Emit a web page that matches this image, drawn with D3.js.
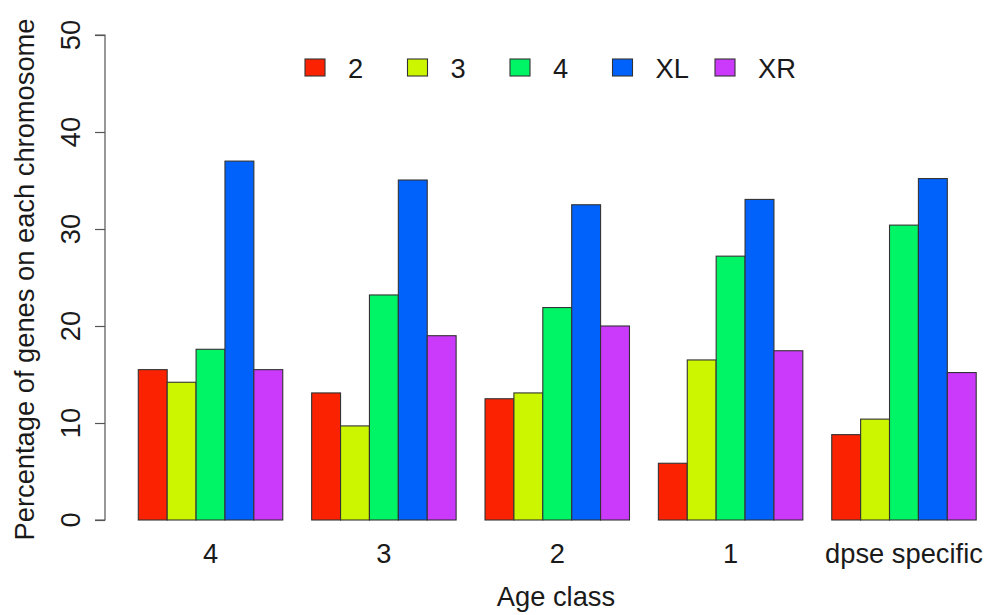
<!DOCTYPE html>
<html>
<head>
<meta charset="utf-8">
<script src="https://cdn.jsdelivr.net/npm/d3@7"></script>
<style>
  html, body { margin: 0; padding: 0; background: #fff; }
  svg { display: block; }
  text { font-family: "Liberation Sans", Arial, Helvetica, sans-serif; fill: #1a1a1a; }
</style>
</head>
<body>
<svg id="chart" width="988" height="615"></svg>
<script>
const categories = ["4", "3", "2", "1", "dpse specific"];
const seriesNames = ["2", "3", "4", "XL", "XR"];
const colors = ["#FA2200", "#CCF500", "#00F566", "#0062FA", "#CB3AFA"];
const chr2 = [15.5, 13.1, 12.5, 5.85, 8.8];
const chr3 = [14.2, 9.7, 13.1, 16.5, 10.4];
const chr4 = [17.6, 23.2, 21.9, 27.2, 30.4];
const chrXL = [37.0, 35.05, 32.5, 33.05, 35.2];
const chrXR = [15.5, 19.0, 20.0, 17.45, 15.2];
const yTicks = [0, 10, 20, 30, 40, 50];

const seriesValues = [chr2, chr3, chr4, chrXL, chrXR];
const fontSize = 27.3;

const svg = d3.select("#chart");

const x0 = d3.scaleBand()
  .domain(categories)
  .range([109.4, 976.2])
  .paddingInner(1 / 6)
  .paddingOuter(1 / 12)
  .align(1);

const x1 = d3.scaleBand()
  .domain(seriesNames)
  .range([0, x0.bandwidth()])
  .padding(0);

const y = d3.scaleLinear().domain([0, 50]).range([520, 35]);

// bars
const groups = svg.append("g").selectAll("g")
  .data(categories)
  .join("g")
  .attr("transform", d => `translate(${x0(d)},0)`);

groups.selectAll("rect")
  .data((c, ci) => seriesNames.map((s, si) => ({ s, si, v: seriesValues[si][ci] })))
  .join("rect")
  .attr("x", d => x1(d.s))
  .attr("y", d => y(d.v))
  .attr("width", x1.bandwidth())
  .attr("height", d => y(0) - y(d.v))
  .attr("fill", d => colors[d.si])
  .attr("stroke", "#333")
  .attr("stroke-width", 1.1);

// y axis (line + ticks via d3 axis, labels drawn explicitly)
const yAxis = d3.axisLeft(y).tickValues(yTicks).tickSize(10).tickFormat(() => "");
const ya = svg.append("g").attr("transform", "translate(105,0)").call(yAxis);
ya.select(".domain").attr("stroke", "#555").attr("stroke-width", 1.2).attr("d", `M-10,${y(50)}H0V${y(0)}H-10`);
ya.selectAll(".tick line").attr("stroke", "#555").attr("stroke-width", 1.2);

svg.append("g").selectAll("text")
  .data(yTicks)
  .join("text")
  .attr("transform", d => `translate(80,${y(d)}) rotate(-90)`)
  .attr("text-anchor", "middle")
  .style("font-size", fontSize + "px")
  .text(d => d);

// x tick labels
svg.append("g").selectAll("text")
  .data(categories)
  .join("text")
  .attr("x", d => x0(d) + x0.bandwidth() / 2)
  .attr("y", 563)
  .attr("text-anchor", "middle")
  .style("font-size", fontSize + "px")
  .text(d => d);

// axis titles
svg.append("text")
  .attr("x", 556).attr("y", 606)
  .attr("text-anchor", "middle")
  .style("font-size", fontSize + "px")
  .text("Age class");

svg.append("text")
  .attr("transform", `translate(34,${(y(0) + y(50)) / 2 + 2}) rotate(-90)`)
  .attr("text-anchor", "middle")
  .style("font-size", fontSize + "px")
  .text("Percentage of genes on each chromosome");

// legend
const legendX = d3.scalePoint().domain(seriesNames).range([305, 715]);
const lg = svg.append("g").selectAll("g")
  .data(seriesNames)
  .join("g")
  .attr("transform", d => `translate(${legendX(d)},0)`);
lg.append("rect")
  .attr("x", 0).attr("y", 59)
  .attr("width", 20).attr("height", 17)
  .attr("fill", (d, i) => colors[i])
  .attr("stroke", "#333").attr("stroke-width", 1.1);
lg.append("text")
  .attr("x", 43).attr("y", 78)
  .style("font-size", fontSize + "px")
  .text(d => d);
</script>
</body>
</html>
